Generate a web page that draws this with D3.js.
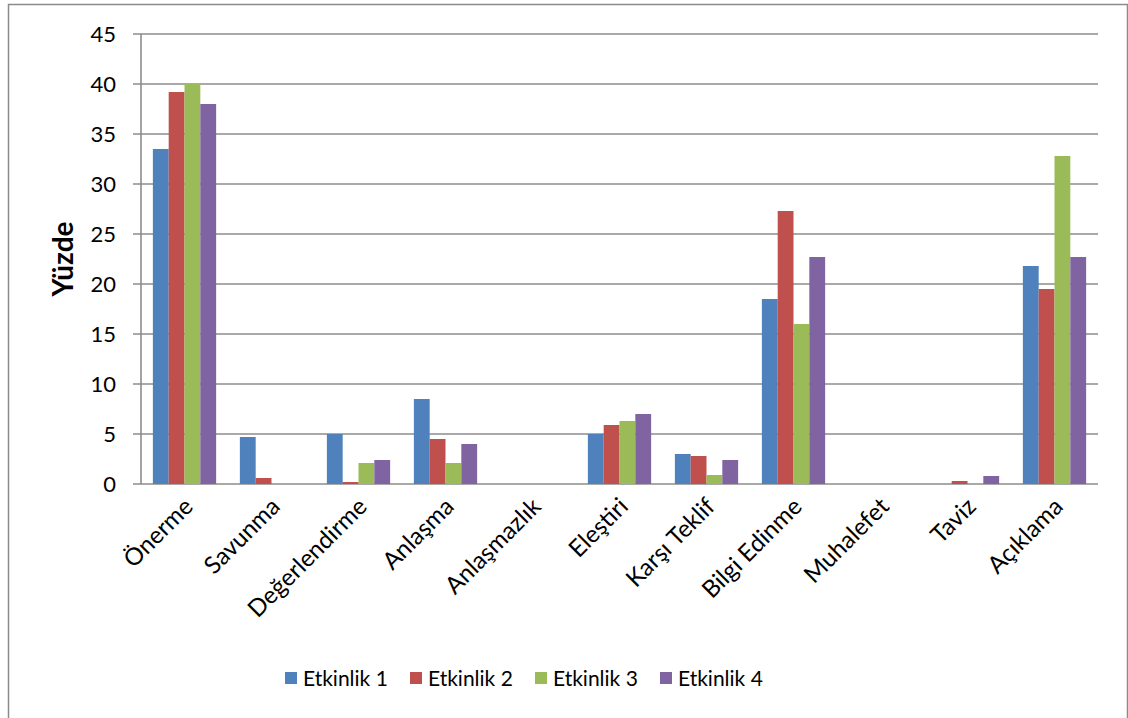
<!DOCTYPE html>
<html>
<head>
<meta charset="utf-8">
<script src="https://cdn.jsdelivr.net/npm/d3@7"></script>
<style>
  html, body { margin: 0; padding: 0; background: #fff; }
  svg { display: block; font-family: Lato, "Open Sans", sans-serif; }
</style>
</head>
<body>
<svg id="chart" width="1128" height="718"></svg>
<script>
// Categories of utterances
const categories = ["Önerme", "Savunma", "Değerlendirme", "Anlaşma", "Anlaşmazlık",
  "Eleştiri", "Karşı Teklif", "Bilgi Edinme", "Muhalefet", "Taviz", "Açıklama"];

// Percentage per activity
const series = ["Etkinlik 1", "Etkinlik 2", "Etkinlik 3", "Etkinlik 4"];
const etkinlik1 = [33.5, 4.7, 5.0, 8.5, 0, 5.0, 3.0, 18.5, 0, 0, 21.8];
const etkinlik2 = [39.2, 0.6, 0.2, 4.5, 0, 5.9, 2.8, 27.3, 0, 0.3, 19.5];
const etkinlik3 = [40.0, 0, 2.1, 2.1, 0, 6.3, 0.9, 16.0, 0, 0, 32.8];
const etkinlik4 = [38.0, 0, 2.4, 4.0, 0, 7.0, 2.4, 22.7, 0, 0.8, 22.7];
const values = [etkinlik1, etkinlik2, etkinlik3, etkinlik4];

const yTicks = [0, 5, 10, 15, 20, 25, 30, 35, 40, 45];
const colors = ["#4F81BD", "#C0504D", "#9BBB59", "#8064A2"];

const svg = d3.select("#chart");

// Outer chart frame
svg.append("rect")
  .attr("x", 8.5).attr("y", 4.5)
  .attr("width", 1119).attr("height", 760)
  .attr("fill", "#fff").attr("stroke", "#8a8a8a").attr("stroke-width", 1.5);

const plot = { left: 141, right: 1098, top: 34, bottom: 484 };

const x = d3.scaleBand().domain(categories).range([plot.left, plot.right]).padding(0);
const y = d3.scaleLinear().domain([0, 45]).range([plot.bottom, plot.top]);

// Bar width follows a 150% gap between groups
const barW = x.bandwidth() / 5.5;
const xs = d3.scaleBand().domain(series).range([0, barW * 4]).padding(0);
const groupOffset = (x.bandwidth() - barW * 4) / 2;

// Horizontal gridlines with tick marks
const grid = svg.append("g");
grid.selectAll("line")
  .data(yTicks)
  .join("line")
  .attr("x1", plot.left - 8).attr("x2", plot.right)
  .attr("y1", d => y(d)).attr("y2", d => y(d))
  .attr("stroke", "#8c8c8c").attr("stroke-width", 1.6);

// Bars
const groups = svg.append("g").selectAll("g")
  .data(series)
  .join("g")
  .attr("fill", (d, i) => colors[i]);

groups.selectAll("rect")
  .data((s, si) => categories.map((c, ci) => ({ s, c, v: values[si][ci] })))
  .join("rect")
  .filter(d => d.v > 0)
  .attr("x", d => x(d.c) + groupOffset + xs(d.s))
  .attr("y", d => y(d.v))
  .attr("width", xs.bandwidth())
  .attr("height", d => y(0) - y(d.v));

// Vertical axis line
svg.append("line")
  .attr("x1", plot.left).attr("x2", plot.left)
  .attr("y1", plot.top).attr("y2", plot.bottom)
  .attr("stroke", "#8c8c8c").attr("stroke-width", 1.6);

// Y tick labels
svg.append("g").selectAll("text")
  .data(yTicks)
  .join("text")
  .attr("x", 116).attr("y", d => y(d))
  .attr("dy", "0.36em")
  .attr("text-anchor", "end")
  .attr("font-size", 22)
  .attr("fill", "#000")
  .text(d => d);

// Y axis title
svg.append("text")
  .attr("transform", "translate(73,259) rotate(-90)")
  .attr("text-anchor", "middle")
  .attr("font-size", 28)
  .attr("font-weight", "bold")
  .attr("fill", "#000")
  .text("Yüzde");

// Rotated category labels
svg.append("g").selectAll("text")
  .data(categories)
  .join("text")
  .attr("transform", d => `translate(${x(d) + x.bandwidth() / 2 + 10},${plot.bottom + 24}) rotate(-45)`)
  .attr("text-anchor", "end")
  .attr("font-size", 24)
  .attr("fill", "#000")
  .text(d => d);

// Legend
const legend = svg.append("g").selectAll("g")
  .data(series)
  .join("g")
  .attr("transform", (d, i) => `translate(${285 + i * 125},672)`);
legend.append("rect")
  .attr("width", 12).attr("height", 12)
  .attr("fill", (d, i) => colors[i]);
legend.append("text")
  .attr("x", 18).attr("y", 6).attr("dy", "0.36em")
  .attr("font-size", 21)
  .attr("fill", "#000")
  .text(d => d);
</script>
</body>
</html>
